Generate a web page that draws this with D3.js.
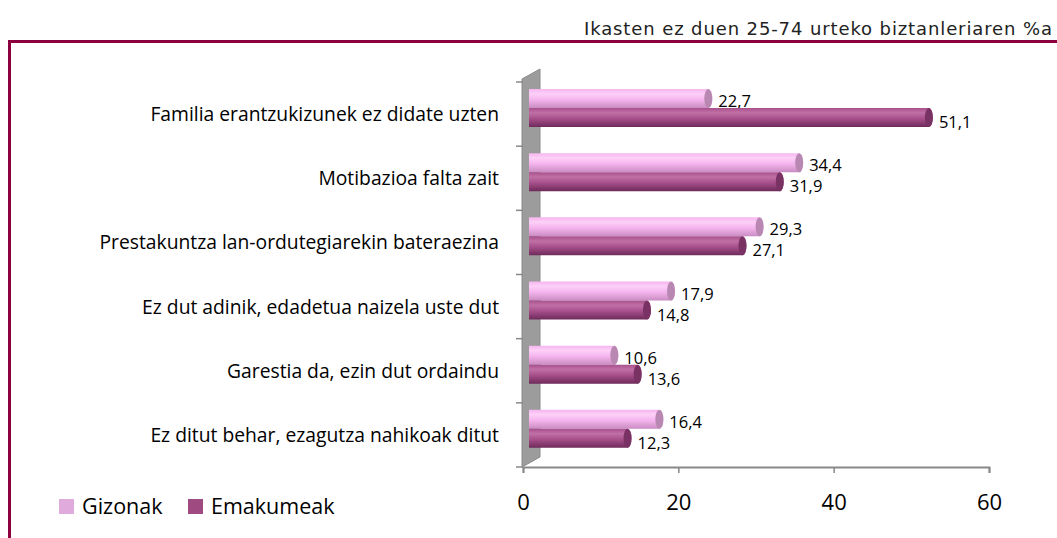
<!DOCTYPE html>
<html>
<head>
<meta charset="utf-8">
<script src="https://cdn.jsdelivr.net/npm/d3@7"></script>
<style>
  body { margin: 0; background: #fff; }
  svg { display: block; }
</style>
</head>
<body>
<div id="chart"></div>
<script>
// data
const categories = [
    "Familia erantzukizunek ez didate uzten",
    "Motibazioa falta zait",
    "Prestakuntza lan-ordutegiarekin bateraezina",
    "Ez dut adinik, edadetua naizela uste dut",
    "Garestia da, ezin dut ordaindu",
    "Ez ditut behar, ezagutza nahikoak ditut"
];
const seriesNames = ["Gizonak", "Emakumeak"];
const gizonak = [22.7, 34.4, 29.3, 17.9, 10.6, 16.4];
const emakumeak = [51.1, 31.9, 27.1, 14.8, 13.6, 12.3];
const xTicks = [0, 20, 40, 60];
const title = "Ikasten ez duen 25-74 urteko biztanleriaren %a";

document.addEventListener('DOMContentLoaded', function() {
    const W = 1057, H = 538;
    const svg = d3.select("#chart").append("svg")
        .attr("width", W).attr("height", H);

    const colors = {
        Gizonak: { top: "#fdd0f8", mid: "#f5b5ee", bot: "#c98cc2", cap: "#b887b2", legend: "#e0aadc" },
        Emakumeak: { top: "#c070a6", mid: "#a8508c", bot: "#6e2a5a", cap: "#7a3264", legend: "#a04a82" }
    };

    const defs = svg.append("defs");
    seriesNames.forEach(s => {
        const g = defs.append("linearGradient").attr("id", "grad-" + s)
            .attr("x1", 0).attr("y1", 0).attr("x2", 0).attr("y2", 1);
        g.append("stop").attr("offset", "0%").attr("stop-color", colors[s].mid);
        g.append("stop").attr("offset", "25%").attr("stop-color", colors[s].top);
        g.append("stop").attr("offset", "55%").attr("stop-color", colors[s].mid);
        g.append("stop").attr("offset", "100%").attr("stop-color", colors[s].bot);
    });

    // frame
    const frame = "#8c0040";
    svg.append("line").attr("x1", 8).attr("x2", W).attr("y1", 41.5).attr("y2", 41.5)
        .attr("stroke", frame).attr("stroke-width", 3);
    svg.append("line").attr("x1", 9.5).attr("x2", 9.5).attr("y1", 40).attr("y2", H)
        .attr("stroke", frame).attr("stroke-width", 3);

    svg.append("text").attr("x", 1052).attr("y", 35)
        .attr("text-anchor", "end")
        .attr("textLength", 468).attr("lengthAdjust", "spacing")
        .style("font-family", "'DejaVu Sans', sans-serif")
        .style("font-size", "18px").style("fill", "#222")
        .text(title);

    // scales
    const x = d3.scaleLinear().domain([0, 60]).range([523, 989]);
    const y = d3.scaleBand().domain(categories).range([82, 467]);
    const ySub = d3.scaleBand().domain(seriesNames).range([7, 45]);
    const depth = { dx: 18, dy: -10 };

    // gray side wall
    const x0 = x(0);
    svg.append("path")
        .attr("d", `M${x0 - 1},${y.range()[0] - 3} L${x0 - 1 + depth.dx},${y.range()[0] - 3 + depth.dy} L${x0 - 1 + depth.dx},${y.range()[1] + depth.dy} L${x0 - 1},${y.range()[1]} Z`)
        .attr("fill", "#9c9c9c").attr("stroke", "#8a8a8a");

    // y ticks
    const yTickPos = categories.map(c => y(c)).concat([y.range()[1]]);
    svg.selectAll(".ytick").data(yTickPos).enter().append("line")
        .attr("x1", x0 - 7).attr("x2", x0).attr("y1", d => d).attr("y2", d => d)
        .attr("stroke", "#888").attr("stroke-width", 1.5);

    // x axis
    const axis = svg.append("g").attr("transform", `translate(0,${y.range()[1]})`)
        .call(d3.axisBottom(x).tickValues(xTicks).tickSize(6).tickFormat(d => d));
    axis.select(".domain").attr("stroke", "#888").attr("stroke-width", 2);
    axis.selectAll(".tick line").attr("stroke", "#888").attr("stroke-width", 1.5);
    axis.selectAll(".tick text")
        .attr("y", 27)
        .style("font-family", "'Open Sans', sans-serif")
        .style("font-size", "22px").style("fill", "#000");

    // category labels
    svg.selectAll(".cat").data(categories).enter().append("text")
        .attr("x", 499)
        .attr("y", d => y(d) + y.bandwidth() / 2 + 7)
        .attr("text-anchor", "end")
        .style("font-family", "'Open Sans', sans-serif")
        .style("font-size", "19.3px").style("fill", "#000")
        .text(d => d);

    // bars as cylinders
    const rows = [];
    categories.forEach((c, i) => {
        rows.push({ cat: c, s: "Gizonak", v: gizonak[i] });
        rows.push({ cat: c, s: "Emakumeak", v: emakumeak[i] });
    });
    const shift = depth.dx / 2;
    const bars = svg.selectAll(".bar").data(rows).enter().append("g");
    bars.each(function(d) {
        const g = d3.select(this);
        const top = y(d.cat) + ySub(d.s);
        const h = ySub.bandwidth();
        const xs = x0 + 6, xe = x(d.v) + shift;
        const rx = 4;
        g.append("path")
            .attr("d", `M${xs},${top} L${xe},${top} A${rx},${h / 2} 0 0 1 ${xe},${top + h} L${xs},${top + h} Z`)
            .attr("fill", `url(#grad-${d.s})`);
        g.append("ellipse")
            .attr("cx", xe).attr("cy", top + h / 2).attr("rx", rx).attr("ry", h / 2)
            .attr("fill", colors[d.s].cap);
        g.append("text")
            .attr("x", xe + rx + 6)
            .attr("y", top + h + (d.s === "Gizonak" ? -1 : 1))
            .style("font-family", "'Open Sans', sans-serif")
            .style("font-size", "16.5px").style("fill", "#000")
            .text(d3.format(".1f")(d.v).replace(".", ","));
    });

    // legend
    const leg = svg.append("g");
    const legX = [59, 188];
    seriesNames.forEach((s, i) => {
        leg.append("rect").attr("x", legX[i]).attr("y", 499).attr("width", 15).attr("height", 15)
            .attr("fill", colors[s].legend);
        leg.append("text").attr("x", legX[i] + 23).attr("y", 514)
            .style("font-family", "'Open Sans', sans-serif")
            .style("font-size", "21.5px").style("fill", "#000")
            .text(s);
    });
});
</script>
</body>
</html>
